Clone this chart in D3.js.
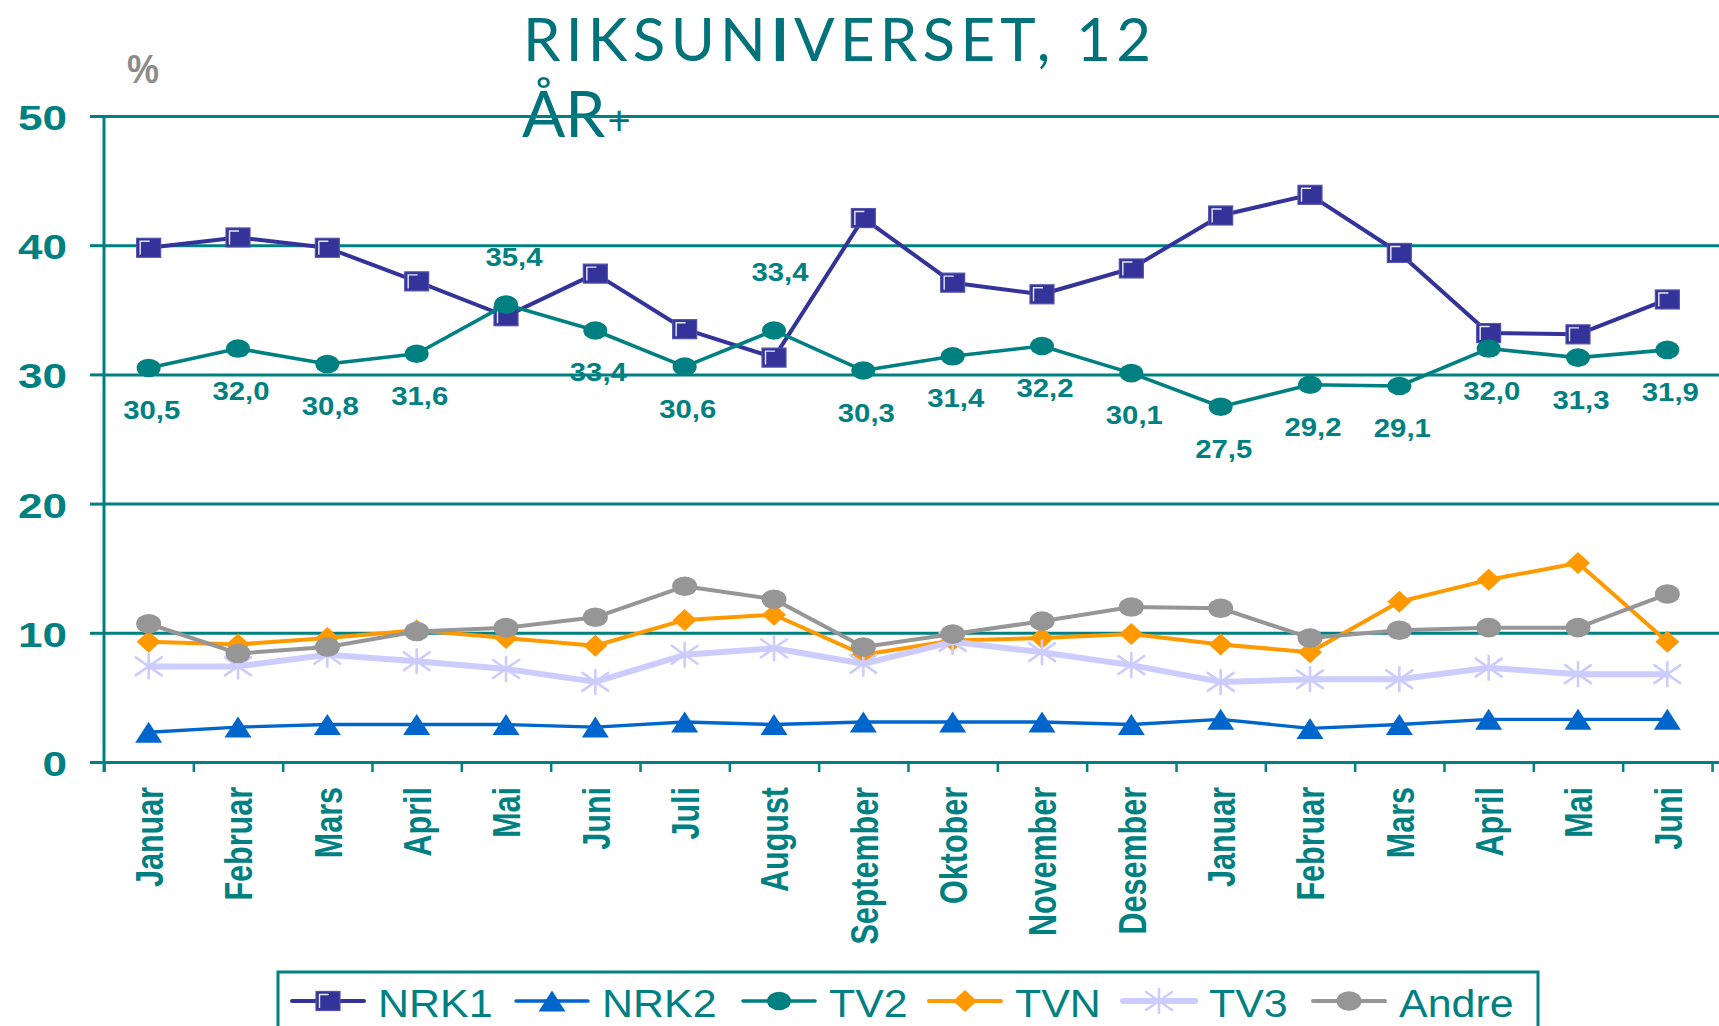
<!DOCTYPE html>
<html>
<head>
<meta charset="utf-8">
<script src="https://cdn.jsdelivr.net/npm/d3@7"></script>
<style>
  html, body { margin: 0; padding: 0; background: #ffffff; }
  svg { display: block; }
</style>
</head>
<body>
<svg id="chart" width="1719" height="1026"></svg>
<script>
// ---------- DATA ----------
const months = ["Januar","Februar","Mars","April","Mai","Juni","Juli","August","September","Oktober","November","Desember","Januar","Februar","Mars","April","Mai","Juni"];
const nrk1  = [39.8,40.6,39.8,37.2,34.5,37.8,33.5,31.3,42.1,37.1,36.2,38.2,42.3,43.9,39.4,33.2,33.1,35.8];
const nrk2  = [2.3,2.7,2.9,2.9,2.9,2.7,3.1,2.9,3.1,3.1,3.1,2.9,3.3,2.6,2.9,3.3,3.3,3.3];
const tv2   = [30.5,32.0,30.8,31.6,35.4,33.4,30.6,33.4,30.3,31.4,32.2,30.1,27.5,29.2,29.1,32.0,31.3,31.9];
const tvn   = [9.3,9.1,9.6,10.2,9.6,9.0,11.0,11.4,8.3,9.4,9.6,9.9,9.1,8.5,12.4,14.1,15.4,9.3];
const tv3   = [7.4,7.4,8.3,7.8,7.2,6.2,8.3,8.8,7.6,9.3,8.5,7.5,6.2,6.4,6.4,7.3,6.8,6.8];
const andre = [10.7,8.4,8.9,10.1,10.4,11.2,13.6,12.6,8.9,9.9,10.9,12.0,11.9,9.6,10.2,10.4,10.4,13.0];
const seriesNames = ["NRK1","NRK2","TV2","TVN","TV3","Andre"];
const yTicks = [0,10,20,30,40,50];
const titleParts = ["RIKSUN", "I", "VERSET, 12"];
const titleLine2 = "ÅR";
const unitLabel = "%";

// ---------- LAYOUT / STYLE ----------
const W = 1719, H = 1026;
const X0 = 104, X1 = 1712, Y0 = 762, Y50 = 116;
const TEAL = "#008080";
const FONT = "'Liberation Sans', Arial, Helvetica, sans-serif";

const svg = d3.select("#chart");
svg.append("rect").attr("width", W).attr("height", H).attr("fill", "#fff");

const idx = d3.range(months.length);
const x = d3.scaleBand().domain(idx).range([X0, X1]).padding(0);
const cx = i => x(i) + x.bandwidth() / 2;
const y = d3.scaleLinear().domain([0, 50]).range([Y0, Y50]);
const xb = d3.scaleLinear().domain([0, months.length]).range([X0, X1]);

// ---------- TITLE ----------
const t1 = svg.append("text")
  .attr("x", 523).attr("y", 61)
  .attr("font-family", "Lato, 'Open Sans', sans-serif")
  .attr("font-weight", 400)
  .attr("font-size", 60)
  .attr("fill", "#00737A")
  .attr("textLength", 628).attr("lengthAdjust", "spacing");
t1.append("tspan").text(titleParts[0]);
t1.append("tspan").attr("font-weight", 700).text(titleParts[1]);
t1.append("tspan").text(titleParts[2]);

const t2 = svg.append("text")
  .attr("x", 522).attr("y", 137)
  .attr("font-family", "Lato, 'Open Sans', sans-serif")
  .attr("font-weight", 400)
  .attr("font-size", 64)
  .attr("fill", "#00737A");
t2.append("tspan").text(titleLine2);
t2.append("tspan").attr("font-size", 40).attr("dx", 2).attr("dy", -2).text("+");

svg.append("text")
  .attr("transform", "translate(127,83) scale(0.9,1)")
  .attr("font-family", FONT).attr("font-weight", 700).attr("font-size", 40)
  .attr("fill", "#8c8c8c").text(unitLabel);

// ---------- Y AXIS + GRID ----------
const gy = svg.append("g").attr("transform", `translate(${X0},0)`)
  .call(d3.axisLeft(y).tickValues(yTicks).tickSize(14).tickFormat(d => d));
gy.select(".domain").remove();
gy.selectAll(".tick line").attr("stroke", TEAL).attr("stroke-width", 3);
gy.selectAll(".tick").append("line")
  .attr("x1", 0).attr("x2", W - X0).attr("y1", 0).attr("y2", 0)
  .attr("stroke", TEAL).attr("stroke-width", 3);
gy.selectAll(".tick text")
  .attr("x", 0).attr("dy", null).attr("y", 0)
  .attr("transform", "translate(-37,13.5) scale(1.26,1)")
  .attr("text-anchor", "end")
  .attr("font-family", FONT).attr("font-weight", 700).attr("font-size", 35)
  .attr("fill", TEAL);

svg.append("line").attr("x1", X0).attr("x2", X0).attr("y1", Y50).attr("y2", Y0 + 10)
  .attr("stroke", TEAL).attr("stroke-width", 3);

// ---------- X AXIS ----------
const gxt = svg.append("g").attr("transform", `translate(0,${Y0})`)
  .call(d3.axisBottom(xb).tickValues(d3.range(months.length + 1)).tickSize(10).tickFormat(""));
gxt.select(".domain").remove();
gxt.selectAll(".tick line").attr("stroke", TEAL).attr("stroke-width", 2.5);

const gx = svg.append("g").attr("transform", `translate(0,${Y0})`)
  .call(d3.axisBottom(x).tickSize(0).tickFormat(i => months[i]));
gx.select(".domain").remove();
gx.selectAll(".tick text")
  .attr("x", 0).attr("y", 0).attr("dy", "0.36em")
  .attr("transform", "translate(0,25) scale(1.3,1) rotate(-90)")
  .attr("text-anchor", "end")
  .attr("font-family", FONT).attr("font-weight", 700).attr("font-size", 30.5)
  .attr("fill", TEAL);

// ---------- MARKERS ----------
function drawMarker(g, type, px, py) {
  if (type === "square") {
    const w = 24, h = 19;
    g.append("rect").attr("x", px - w/2).attr("y", py - h/2).attr("width", w).attr("height", h)
      .attr("fill", "#333399").attr("stroke", "#5252ad").attr("stroke-width", 1.2);
    g.append("path")
      .attr("d", `M${px - w/2 + 3.5},${py + h/2 - 2.5} V${py - h/2 + 3} H${px + 1}`)
      .attr("fill", "none").attr("stroke", "#ffffff").attr("stroke-width", 1.4).attr("opacity", 0.9);
  } else if (type === "triangle") {
    const w = 27, h = 21;
    g.append("path").attr("d", `M${px},${py - h/2} L${px + w/2},${py + h/2} L${px - w/2},${py + h/2} Z`)
      .attr("fill", "#0066CC");
  } else if (type === "circleTeal") {
    g.append("ellipse").attr("cx", px).attr("cy", py).attr("rx", 12).attr("ry", 9.3).attr("fill", TEAL);
  } else if (type === "diamond") {
    g.append("path").attr("d", `M${px},${py - 11} L${px + 12},${py} L${px},${py + 11} L${px - 12},${py} Z`)
      .attr("fill", "#FF9900");
  } else if (type === "star") {
    const s = g.append("g").attr("stroke", "#CCCCFF").attr("stroke-width", 2.6).attr("stroke-linecap", "round");
    s.append("line").attr("x1", px).attr("x2", px).attr("y1", py - 12).attr("y2", py + 12);
    s.append("line").attr("x1", px - 13).attr("x2", px + 13).attr("y1", py - 9).attr("y2", py + 9);
    s.append("line").attr("x1", px - 13).attr("x2", px + 13).attr("y1", py + 9).attr("y2", py - 9);
  } else if (type === "circleGray") {
    g.append("ellipse").attr("cx", px).attr("cy", py).attr("rx", 12.5).attr("ry", 9.8).attr("fill", "#969696");
  }
}

const seriesDefs = [
  { name: seriesNames[0], values: nrk1,  color: "#333399", width: 4,   marker: "square" },
  { name: seriesNames[1], values: nrk2,  color: "#0066CC", width: 3.4, marker: "triangle" },
  { name: seriesNames[2], values: tv2,   color: TEAL,      width: 3.6, marker: "circleTeal" },
  { name: seriesNames[3], values: tvn,   color: "#FF9900", width: 4,   marker: "diamond" },
  { name: seriesNames[4], values: tv3,   color: "#CCCCFF", width: 6,   marker: "star" },
  { name: seriesNames[5], values: andre, color: "#969696", width: 4,   marker: "circleGray" }
];

const line = d3.line().x((d, i) => cx(i)).y(d => y(d));
seriesDefs.forEach(s => {
  const g = svg.append("g");
  g.append("path").datum(s.values).attr("d", line)
    .attr("fill", "none").attr("stroke", s.color).attr("stroke-width", s.width)
    .attr("stroke-linejoin", "round");
  s.values.forEach((v, i) => drawMarker(g, s.marker, cx(i), y(v)));
});

// ---------- TV2 DATA LABELS ----------
const labelAbove = { 4: { dx: 8, dy: -39 }, 7: { dx: 6, dy: -49 } };
const fmt = v => v.toFixed(1).replace(".", ",");
const gl = svg.append("g");
tv2.forEach((v, i) => {
  const off = labelAbove[i] || { dx: 3, dy: 51 };
  gl.append("text")
    .attr("transform", `translate(${cx(i) + off.dx},${y(v) + off.dy}) scale(1.15,1)`)
    .attr("text-anchor", "middle")
    .attr("font-family", FONT).attr("font-weight", 700).attr("font-size", 25.5)
    .attr("fill", TEAL).text(fmt(v));
});

// ---------- LEGEND ----------
svg.append("rect").attr("x", 278).attr("y", 972).attr("width", 1260).attr("height", 120)
  .attr("fill", "none").attr("stroke", TEAL).attr("stroke-width", 3);
const legendX = [292, 516, 743, 929, 1123, 1313];
const LY = 1001;
seriesDefs.forEach((s, k) => {
  const lx = legendX[k];
  const g = svg.append("g");
  g.append("line").attr("x1", lx).attr("x2", lx + 72).attr("y1", LY).attr("y2", LY)
    .attr("stroke", s.color).attr("stroke-width", s.width).attr("stroke-linecap", "round");
  drawMarker(g, s.marker, lx + 36, LY);
  g.append("text")
    .attr("transform", `translate(${lx + 86},1017) scale(1.13,1)`)
    .attr("font-family", FONT).attr("font-size", 38).attr("fill", TEAL)
    .text(s.name);
});
</script>
</body>
</html>
